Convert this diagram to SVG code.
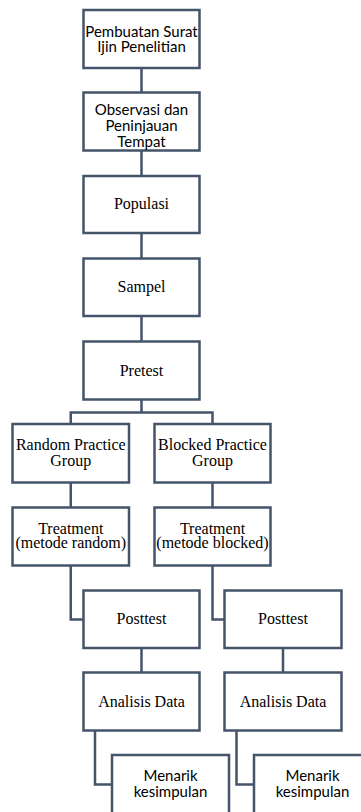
<svg xmlns="http://www.w3.org/2000/svg" width="361" height="812" viewBox="0 0 361 812">
<style>
.box{fill:#fff;stroke:#44546A;stroke-width:2.5}
.con{fill:none;stroke:#44546A;stroke-width:2.5}
.s{font-family:Lato,"Liberation Sans",sans-serif;font-size:15px;fill:#000;text-anchor:middle}
.t{font-family:"Liberation Serif","Times New Roman",serif;font-size:16px;fill:#000;text-anchor:middle}
</style>
<rect width="361" height="812" fill="#fff"/>
<g id="connectors" class="con">
<path d="M141.5 68V92.5M141.5 150.5V176M141.5 233V258.5M141.5 316V341.5M141.5 399.5V412.5"/>
<path d="M70.75 424V412.5H212.5V424"/>
<path d="M70.75 482.5V507.5M212.5 482.5V507.5"/>
<path d="M70.75 565.5V619.5H83.5M212.5 565.5V619.5H224.5"/>
<path d="M141.5 648V672.5M283 648V672.5"/>
<path d="M95 730.5V784.5H112M236.5 730.5V784.5H254"/>
</g>
<g id="n1"><rect class="box" x="83.5" y="10" width="116" height="58"/><text class="s" x="141.5" y="36.7">Pembuatan Surat</text><text class="s" x="141.5" y="52.3">Ijin Penelitian</text></g>
<g id="n2"><rect class="box" x="83.5" y="92.5" width="116" height="58"/><text class="s" x="141.5" y="114.5">Observasi dan</text><text class="s" x="141.5" y="130.5">Peninjauan</text><text class="s" x="141.5" y="146.5">Tempat</text></g>
<g id="n3"><rect class="box" x="83.5" y="176" width="116" height="57"/><text class="t" x="141.5" y="208.5">Populasi</text></g>
<g id="n4"><rect class="box" x="83.5" y="258.5" width="116" height="57.5"/><text class="t" x="141.5" y="292.3">Sampel</text></g>
<g id="n5"><rect class="box" x="83.5" y="341.5" width="116" height="58"/><text class="t" x="141.5" y="375.7">Pretest</text></g>
<g id="n6"><rect class="box" x="12.5" y="424" width="116.5" height="58.5"/><text class="t" x="70.75" y="450">Random Practice</text><text class="t" x="70.75" y="465.7">Group</text></g>
<g id="n7"><rect class="box" x="154.5" y="424" width="116" height="58.5"/><text class="t" x="212.5" y="450">Blocked Practice</text><text class="t" x="212.5" y="465.7">Group</text></g>
<g id="n8"><rect class="box" x="12.5" y="507.5" width="116.5" height="58"/><text class="t" x="70.75" y="534">Treatment</text><text class="t" x="70.75" y="548.3">(metode random)</text></g>
<g id="n9"><rect class="box" x="154.5" y="507.5" width="116" height="58"/><text class="t" x="212.5" y="534">Treatment</text><text class="t" x="212.5" y="548.3">(metode blocked)</text></g>
<g id="n10"><rect class="box" x="83.5" y="590.5" width="116" height="57.5"/><text class="t" x="141.5" y="624">Posttest</text></g>
<g id="n11"><rect class="box" x="224.5" y="590.5" width="117" height="57.5"/><text class="t" x="283" y="624">Posttest</text></g>
<g id="n12"><rect class="box" x="83.5" y="672.5" width="116" height="58"/><text class="t" x="141.5" y="706.7">Analisis Data</text></g>
<g id="n13"><rect class="box" x="224.5" y="672.5" width="117" height="58"/><text class="t" x="283" y="706.7">Analisis Data</text></g>
<g id="n14"><rect class="box" x="112" y="755" width="117" height="70"/><text class="s" x="170.5" y="781">Menarik</text><text class="s" x="170.5" y="797">kesimpulan</text></g>
<g id="n15"><rect class="box" x="254" y="755" width="117" height="70"/><text class="s" x="312.5" y="781">Menarik</text><text class="s" x="312.5" y="797">kesimpulan</text></g>
</svg>
